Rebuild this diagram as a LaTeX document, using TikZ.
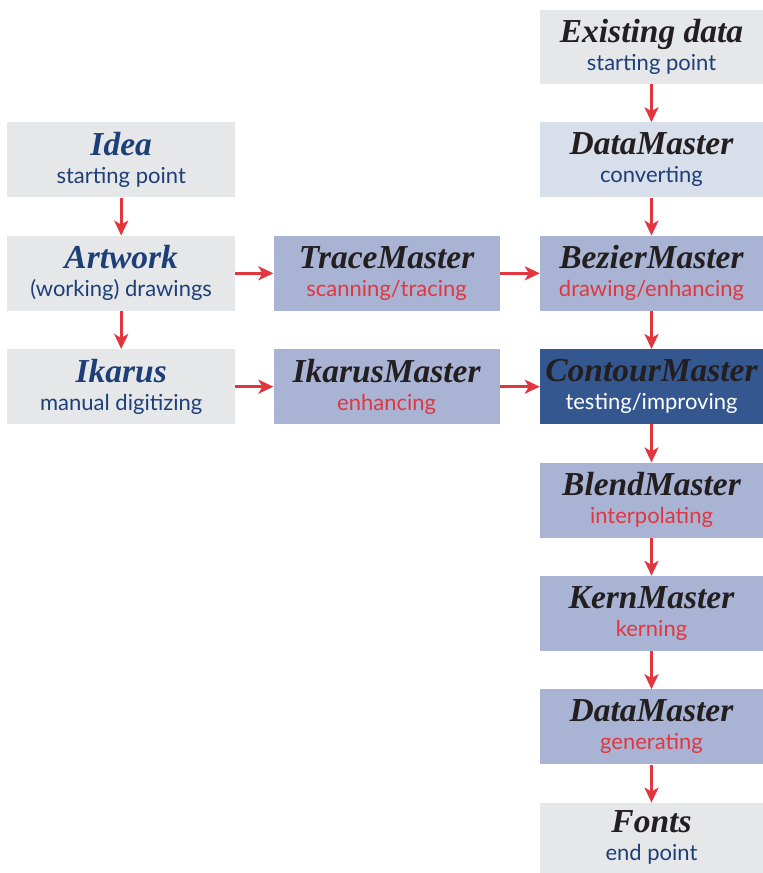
\documentclass[tikz,border=0pt]{standalone}
\usepackage{fontspec}
\setmainfont{Liberation Serif}
\newfontfamily\subfont{Lato}
\usetikzlibrary{positioning, arrows.meta}

\definecolor{boxgray}{HTML}{E6E7E9}
\definecolor{boxpale}{HTML}{D9DEEB}
\definecolor{boxmid}{HTML}{A9B3D3}
\definecolor{boxdark}{HTML}{35578F}
\definecolor{navy}{HTML}{1D3F78}
\definecolor{flowred}{HTML}{E2363F}
\definecolor{ink}{HTML}{231F20}

% title line and description line of a box
\newcommand{\boxtext}[4]{{\fontsize{33.5}{28}\selectfont\bfseries\itshape\color{#1}#2}\\{\subfont\fontsize{22}{28}\selectfont\color{#3}#4}}

\begin{document}
\begin{tikzpicture}[
  x=1pt, y=-1pt,
  node distance=38pt and 38pt,
  stage/.style={rectangle, minimum width=226pt, minimum height=75pt, inner sep=0pt, align=center,
    font=\fontsize{22}{28}\selectfont},
  start/.style={stage, fill=boxgray},
  tool/.style={stage, fill=boxmid},
  flow/.style={draw=flowred, line width=2.8pt, -{Stealth[length=15pt, width=14pt, inset=4pt]}}
  ]
  \useasboundingbox (0,0) rectangle (763,873);

  % right column
  \node[start, minimum width=223pt, minimum height=74pt] (exist) at (651.5,47)
    {\boxtext{ink}{Existing data}{navy}{starting point}};
  \node[stage, fill=boxpale, minimum width=223pt, below=of exist] (dmconv)
    {\boxtext{ink}{DataMaster}{navy}{converting}};
  \node[tool, minimum width=223pt, below=of dmconv] (bezier)
    {\boxtext{ink}{BezierMaster}{flowred}{drawing/enhancing}};
  \node[stage, fill=boxdark, minimum width=223pt, below=of bezier] (contour)
    {\boxtext{ink}{ContourMaster}{white}{testing/improving}};
  \node[tool, minimum width=223pt, below=of contour] (blend)
    {\boxtext{ink}{BlendMaster}{flowred}{interpolating}};
  \node[tool, minimum width=223pt, below=of blend] (kern)
    {\boxtext{ink}{KernMaster}{flowred}{kerning}};
  \node[tool, minimum width=223pt, below=of kern] (dmgen)
    {\boxtext{ink}{DataMaster}{flowred}{generating}};
  \node[start, minimum width=223pt, minimum height=70pt, anchor=north] (fonts) at ([yshift=-38pt]dmgen.south)
    {\boxtext{ink}{Fonts}{navy}{end point}};

  % middle column
  \node[tool, left=40pt of bezier] (trace)
    {\boxtext{ink}{TraceMaster}{flowred}{scanning/tracing}};
  \node[tool, left=40pt of contour] (ikmaster)
    {\boxtext{ink}{IkarusMaster}{flowred}{enhancing}};

  % left column
  \node[start, minimum width=228pt, left=of trace] (artwork)
    {\boxtext{navy}{Artwork}{navy}{(working) drawings}};
  \node[start, minimum width=228pt, above=of artwork] (idea)
    {\boxtext{navy}{Idea}{navy}{starting point}};
  \node[start, minimum width=228pt, left=of ikmaster] (ikarus)
    {\boxtext{navy}{Ikarus}{navy}{manual digitizing}};

  % connectors
  \draw[flow] (exist) -- (dmconv);
  \draw[flow] (dmconv) -- (bezier);
  \draw[flow] (bezier) -- (contour);
  \draw[flow] (contour) -- (blend);
  \draw[flow] (blend) -- (kern);
  \draw[flow] (kern) -- (dmgen);
  \draw[flow] (dmgen) -- (fonts);
  \draw[flow] (idea) -- (artwork);
  \draw[flow] (artwork) -- (ikarus);
  \draw[flow] (artwork) -- (trace);
  \draw[flow] (trace) -- (bezier);
  \draw[flow] (ikarus) -- (ikmaster);
  \draw[flow] (ikmaster) -- (contour);
\end{tikzpicture}
\end{document}
